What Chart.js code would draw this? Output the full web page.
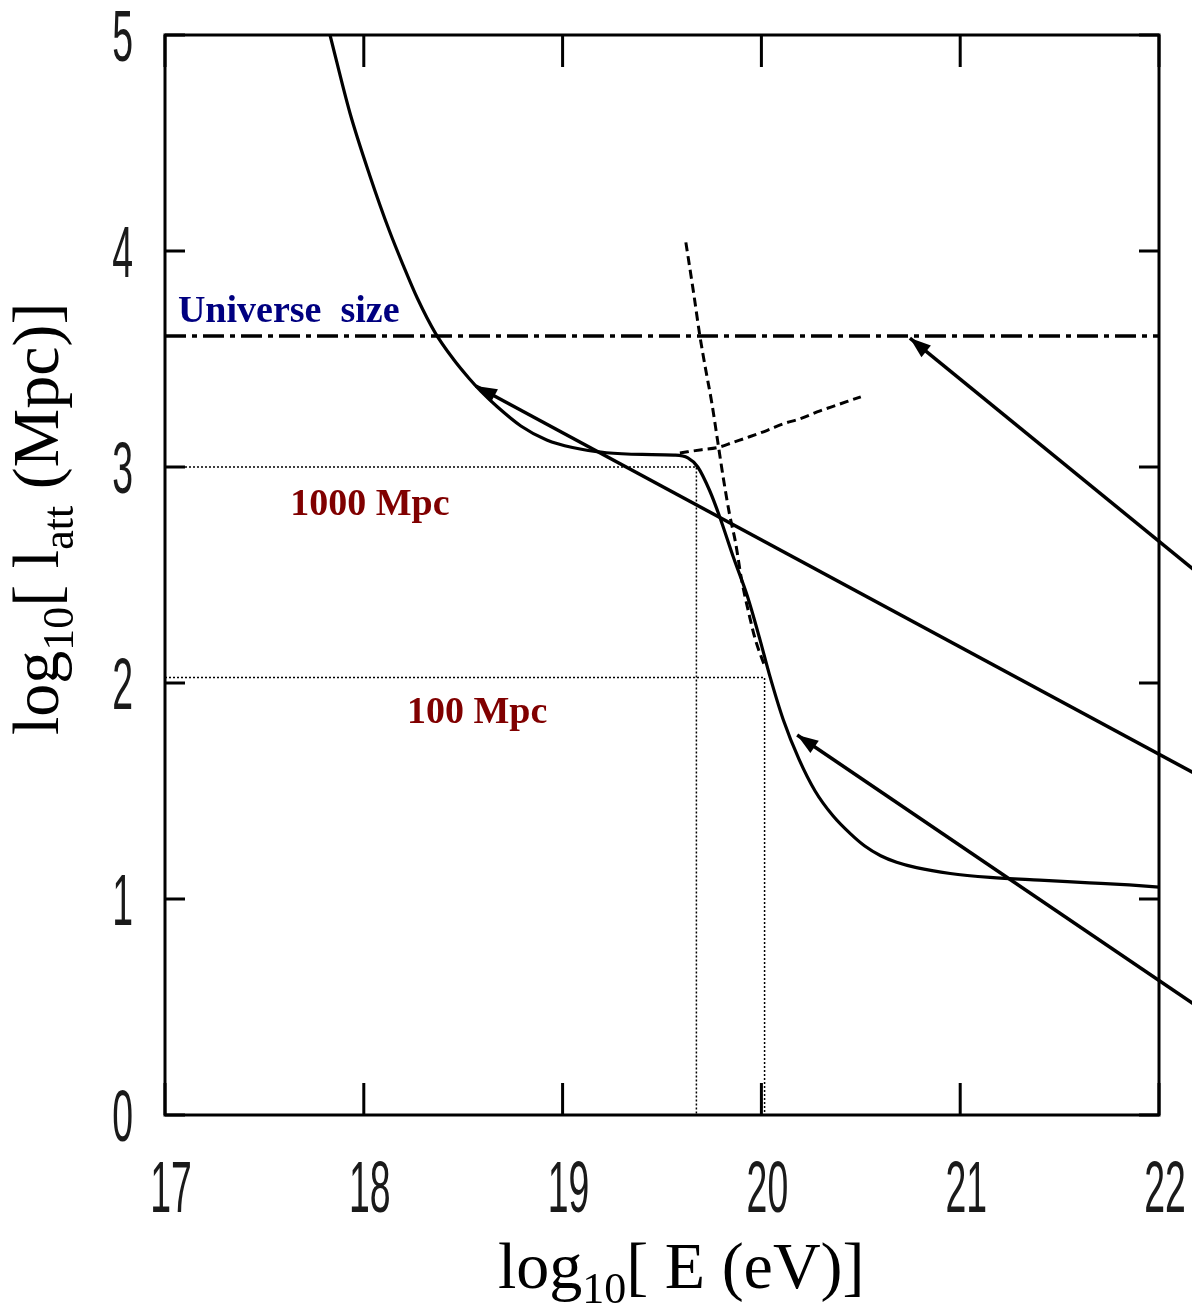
<!DOCTYPE html>
<html>
<head>
<meta charset="utf-8">
<script src="https://cdn.jsdelivr.net/npm/chart.js@4.4.1/dist/chart.umd.min.js"></script>
<style>
  html, body { margin: 0; padding: 0; background: #fff; }
  #chart { display: block; }
</style>
</head>
<body>
<canvas id="chart" width="1192" height="1309"></canvas>
<script>
'use strict';
// attenuation length curve, log10(E/eV) vs log10(l_att/Mpc)
var mainE = [17.83, 17.93, 18.03, 18.13, 18.20, 18.27, 18.36, 18.45, 18.53, 18.59, 18.67, 18.79, 18.92, 19.05, 19.22, 19.40, 19.56, 19.63, 19.68, 19.74, 19.79, 19.86, 19.93, 19.99, 20.04, 20.11, 20.19, 20.27, 20.36, 20.45, 20.52, 20.60, 20.68, 20.78, 20.95, 21.15, 21.40, 21.65, 21.85, 22.0];
var mainL = [5.0, 4.64, 4.35, 4.09, 3.93, 3.78, 3.62, 3.50, 3.41, 3.35, 3.28, 3.19, 3.125, 3.09, 3.066, 3.058, 3.055, 3.042, 3.0, 2.89, 2.77, 2.58, 2.40, 2.21, 2.04, 1.83, 1.645, 1.50, 1.385, 1.30, 1.245, 1.20, 1.17, 1.145, 1.118, 1.10, 1.087, 1.075, 1.065, 1.055];

// photopion branch (steep dashed)
var pionE = [19.62, 19.66, 19.69, 19.72, 19.75, 19.78, 19.81, 19.84, 19.87, 19.90, 19.94, 19.97, 20.02];
var pionL = [4.04, 3.80, 3.61, 3.45, 3.30, 3.12, 2.94, 2.78, 2.65, 2.48, 2.31, 2.20, 2.07];

// pair production branch (rising dashed)
var pairE = [19.59, 19.70, 19.78, 19.86, 19.94, 20.03, 20.11, 20.20, 20.28, 20.39, 20.50];
var pairL = [3.065, 3.08, 3.09, 3.115, 3.14, 3.17, 3.20, 3.225, 3.255, 3.29, 3.325];

// universe size level
var universeE = [17, 22];
var universeL = [3.606, 3.606];

// dotted guides for 1000 Mpc and 100 Mpc
var guide1000E = [17, 19.673, 19.673];
var guide1000L = [3, 3, 0];
var guide100E = [17, 20.016, 20.016];
var guide100L = [2.025, 2.025, 0];

// arrows coming in from the right edge
var arrowTailE = [22.2, 22.2, 22.2];
var arrowTailL = [2.506, 1.571, 0.498];
var arrowTipE = [20.747, 18.564, 20.18];
var arrowTipL = [3.597, 3.375, 1.759];

var xTicks = [17, 18, 19, 20, 21, 22];
var yTicks = [0, 1, 2, 3, 4, 5];

// text notes, anchored at their left baseline
var noteText = ['Universe  size', '1000 Mpc', '100 Mpc'];
var noteE = [17.065, 17.63, 18.217];
var noteL = [3.671, 2.778, 1.815];
var noteColor = ['#000080', '#800000', '#800000'];

function toPoints(xs, ys) {
  var pts = [];
  for (var i = 0; i < xs.length; i++) {
    pts.push({ x: xs[i], y: ys[i] });
  }
  return pts;
}

var datasets = [
  {
    data: toPoints(mainE, mainL),
    borderColor: '#000', borderWidth: 3.2,
    cubicInterpolationMode: 'monotone'
  },
  {
    data: toPoints(pionE, pionL),
    borderColor: '#000', borderWidth: 3, borderDash: [9, 5],
    cubicInterpolationMode: 'monotone'
  },
  {
    data: toPoints(pairE, pairL),
    borderColor: '#000', borderWidth: 3, borderDash: [9, 5],
    cubicInterpolationMode: 'monotone'
  },
  {
    data: toPoints(universeE, universeL),
    borderColor: '#000', borderWidth: 3.5, borderDash: [21, 6, 5, 6]
  },
  {
    data: toPoints(guide1000E, guide1000L),
    borderColor: '#000', borderWidth: 1.5, borderDash: [2, 2]
  },
  {
    data: toPoints(guide100E, guide100L),
    borderColor: '#000', borderWidth: 1.5, borderDash: [2, 2]
  }
];

for (var a = 0; a < arrowTipE.length; a++) {
  datasets.push({
    data: toPoints([arrowTailE[a], arrowTipE[a]], [arrowTailL[a], arrowTipL[a]]),
    borderColor: '#000', borderWidth: 3.5,
    clip: false
  });
}

// draws a run of text pieces, some of them as subscripts
function drawPieces(ctx, pieces, x, y) {
  for (var i = 0; i < pieces.length; i++) {
    var p = pieces[i];
    ctx.font = (p.sub ? '44px' : '66px') + ' "Liberation Serif", "Times New Roman", serif';
    ctx.fillText(p.t, x, y + (p.sub ? 15 : 0));
    x += ctx.measureText(p.t).width;
  }
}

var framePlugin = {
  id: 'frame',
  afterDatasetsDraw: function(chart) {
    var ctx = chart.ctx;
    var area = chart.chartArea;
    var xs = chart.scales.x;
    var ys = chart.scales.y;

    // arrowheads at the tips
    ctx.save();
    ctx.fillStyle = '#000';
    for (var a = 0; a < arrowTipE.length; a++) {
      var tx = xs.getPixelForValue(arrowTipE[a]);
      var ty = ys.getPixelForValue(arrowTipL[a]);
      var sx = xs.getPixelForValue(arrowTailE[a]);
      var sy = ys.getPixelForValue(arrowTailL[a]);
      var ang = Math.atan2(ty - sy, tx - sx);
      ctx.save();
      ctx.translate(tx, ty);
      ctx.rotate(ang);
      ctx.beginPath();
      ctx.moveTo(0, 0);
      ctx.lineTo(-21, -7.5);
      ctx.lineTo(-21, 7.5);
      ctx.closePath();
      ctx.fill();
      ctx.restore();
    }
    ctx.restore();

    // box and inward ticks on all four sides
    ctx.save();
    ctx.strokeStyle = '#000';
    ctx.lineWidth = 3;
    ctx.strokeRect(area.left, area.top, area.right - area.left, area.bottom - area.top);
    ctx.beginPath();
    xTicks.forEach(function(v) {
      var px = xs.getPixelForValue(v);
      ctx.moveTo(px, area.bottom); ctx.lineTo(px, area.bottom - 32);
      ctx.moveTo(px, area.top); ctx.lineTo(px, area.top + 32);
    });
    yTicks.forEach(function(v) {
      var py = ys.getPixelForValue(v);
      ctx.moveTo(area.left, py); ctx.lineTo(area.left + 20, py);
      ctx.moveTo(area.right, py); ctx.lineTo(area.right - 20, py);
    });
    ctx.stroke();

    // narrow tick numbers
    ctx.fillStyle = '#1a1a1a';
    ctx.font = '72px "Liberation Sans", Arial, sans-serif';
    ctx.textAlign = 'center';
    ctx.textBaseline = 'alphabetic';
    xTicks.forEach(function(v) {
      var px = xs.getPixelForValue(v) + 6;
      ctx.save();
      ctx.translate(px, area.bottom + 97);
      ctx.scale(0.52, 1);
      ctx.fillText(String(v), 0, 0);
      ctx.restore();
    });
    ctx.textAlign = 'right';
    yTicks.forEach(function(v) {
      var py = ys.getPixelForValue(v);
      ctx.save();
      ctx.translate(133, py + 26);
      ctx.scale(0.52, 1);
      ctx.fillText(String(v), 0, 0);
      ctx.restore();
    });

    // notes inside the plot
    ctx.textAlign = 'left';
    ctx.font = 'bold 38px "Liberation Serif", "Times New Roman", serif';
    for (var n = 0; n < noteText.length; n++) {
      ctx.fillStyle = noteColor[n];
      ctx.fillText(noteText[n], xs.getPixelForValue(noteE[n]), ys.getPixelForValue(noteL[n]));
    }

    // axis titles
    ctx.fillStyle = '#000';
    drawPieces(ctx, [
      { t: 'log' }, { t: '10', sub: true }, { t: '[ E (eV)]' }
    ], 498, 1288);

    ctx.translate(58, 735);
    ctx.rotate(-Math.PI / 2);
    drawPieces(ctx, [
      { t: 'log' }, { t: '10', sub: true }, { t: '[ l' }, { t: 'att', sub: true }, { t: ' (Mpc)]' }
    ], 0, 0);
    ctx.restore();
  }
};

var canvas = document.getElementById('chart');
var ctx = canvas.getContext('2d');

var chart = new Chart(ctx, {
  type: 'line',
  data: { datasets: datasets },
  options: {
    responsive: false,
    animation: false,
    devicePixelRatio: 1,
    layout: { padding: { left: 165, top: 35, right: 33, bottom: 194 } },
    elements: {
      point: { radius: 0, hoverRadius: 0 },
      line: { fill: false, borderCapStyle: 'butt' }
    },
    plugins: {
      legend: { display: false },
      tooltip: { enabled: false }
    },
    scales: {
      x: { type: 'linear', min: 17, max: 22, display: false },
      y: { type: 'linear', min: 0, max: 5, display: false }
    }
  },
  plugins: [framePlugin]
});
</script>
</body>
</html>
